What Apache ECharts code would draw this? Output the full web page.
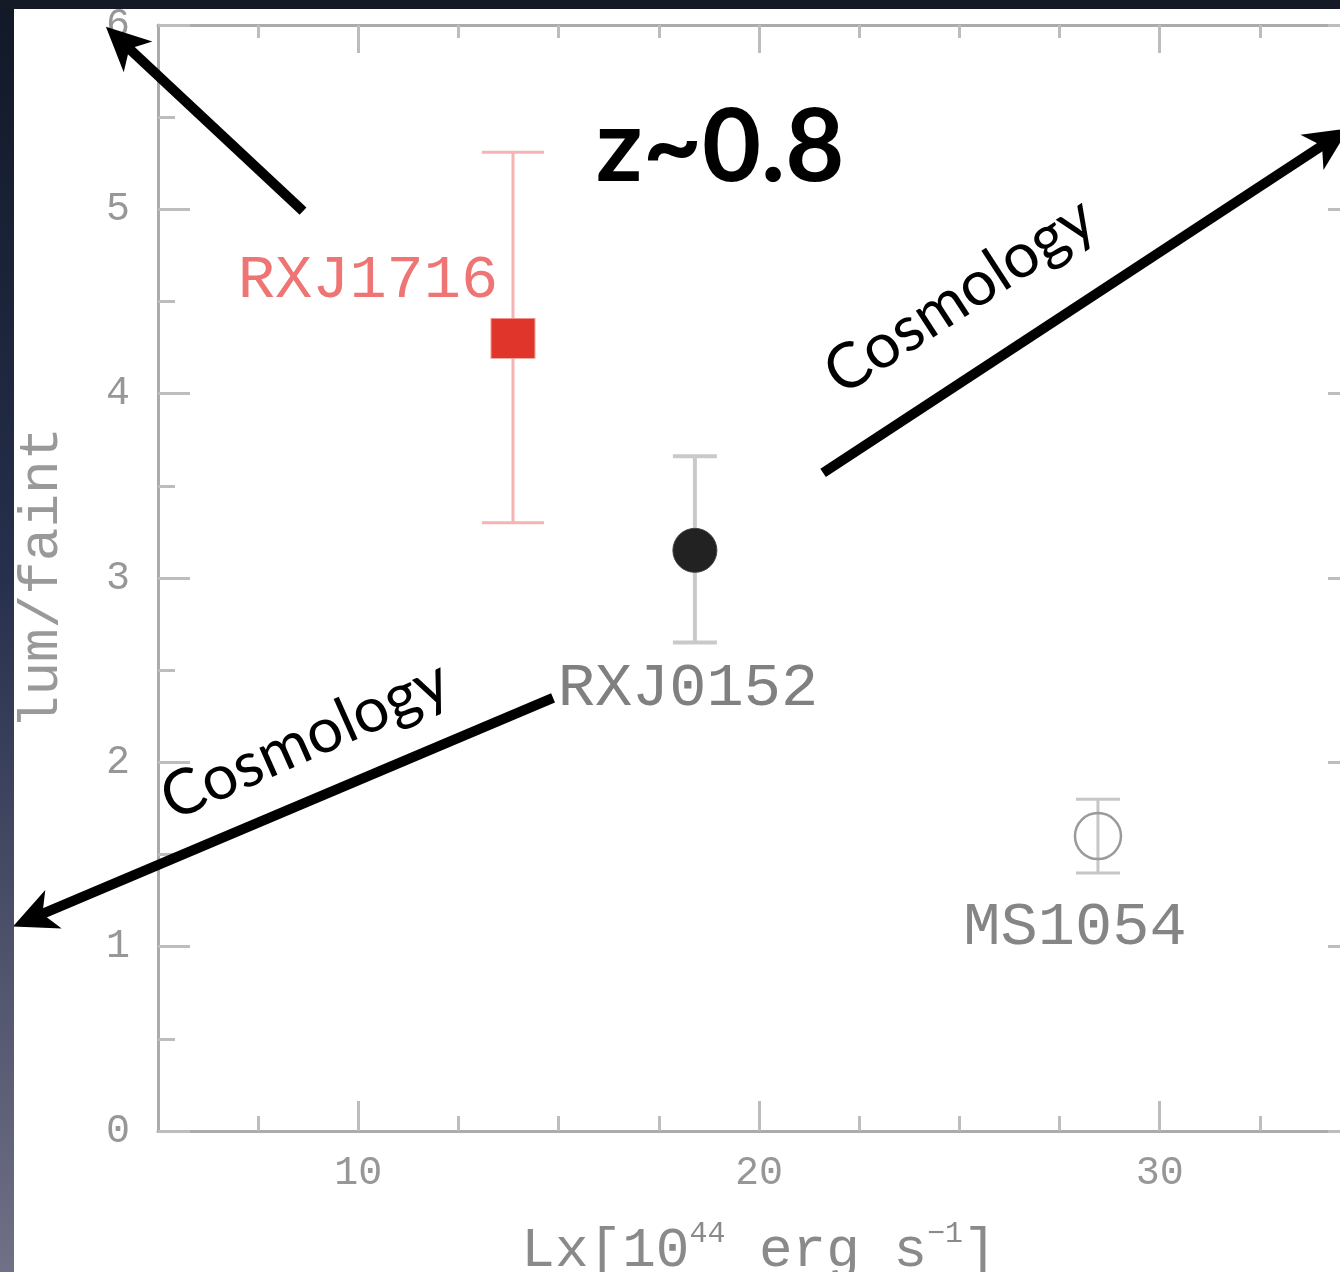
<!DOCTYPE html>
<html>
<head>
<meta charset="utf-8">
<title>lum/faint vs Lx</title>
<script src="https://cdn.jsdelivr.net/npm/echarts@6/dist/echarts.min.js"></script>
<style>
  html, body { margin: 0; padding: 0; background: #141b27; }
  #chart { width: 1340px; height: 1272px; }
</style>
</head>
<body>
<div id="chart"></div>
<script>
// Cluster measurements: X-ray luminosity vs luminous/faint galaxy ratio
const clusters   = ['RXJ1716', 'RXJ0152', 'MS1054'];
const lx         = [13.86, 18.40, 28.46];
const ratio      = [4.30, 3.15, 1.60];
const ratioLow   = [3.30, 2.65, 1.40];
const ratioHigh  = [5.31, 3.66, 1.80];

// Axis ticks
const xMajorTicks = [10, 20, 30];
const xMinorTicks = [7.5, 12.5, 15, 17.5, 22.5, 25, 27.5, 32.5];

// Annotation arrows (tail -> head, in data units)
const arrowTails = [[8.62, 4.99], [21.60, 3.57], [14.86, 2.35]];
const arrowHeads = [[3.70, 5.99], [34.72, 5.44], [1.38, 1.11]];

// Annotation texts and their anchors (data units) and baseline angles (deg)
const noteTexts   = ['z~0.8', 'Cosmology', 'Cosmology'];
const noteAnchors = [[19.03, 5.33], [25.01, 4.53], [8.67, 2.12]];
const noteAngles  = [0, 33, 24];

const TICK_FONT = 'Liberation Mono';
const NOTE_FONT = 'Lato';

const markerStyles = [
  { symbol: 'rect', size: [44, 40], color: '#e0352b', border: '#f3a09a', borderWidth: 1,
    label: '#ef7474', offset: [-145, -58], bar: '#f5b4b4', barWidth: 3, cap: 31 },
  { symbol: 'circle', size: 44, color: '#222222', border: '#444', borderWidth: 1,
    label: '#808080', offset: [-7, 138], bar: '#c9c9c9', barWidth: 4, cap: 22 },
  { symbol: 'circle', size: 46, color: 'rgba(0,0,0,0)', border: '#9a9a9a', borderWidth: 2.5,
    label: '#858585', offset: [-23, 92], bar: '#c6c6c6', barWidth: 3, cap: 22 }
];

const axisGray = '#ababab';
const tickGray = '#bdbdbd';
const labelGray = '#979797';

function xAxisPart(position, values, length, showLine, showLabel) {
  return {
    type: 'value', position: position, min: 5, max: 35, interval: 2.5,
    axisLine: { show: showLine, onZero: false, lineStyle: { color: axisGray, width: 3 } },
    axisTick: { show: true, inside: true, length: length, customValues: values,
                lineStyle: { color: tickGray, width: 3 } },
    axisLabel: { show: showLabel, customValues: values, margin: 22,
                 fontFamily: TICK_FONT, fontSize: 40, color: labelGray },
    splitLine: { show: false }
  };
}

function yAxisPart(position, showLabel) {
  return {
    type: 'value', position: position, min: 0, max: 6, interval: 1,
    axisLine: { show: true, onZero: false, lineStyle: { color: axisGray, width: 3 } },
    axisTick: { show: true, inside: true, length: 32, lineStyle: { color: tickGray, width: 3 } },
    minorTick: { show: true, splitNumber: 2, length: 17, lineStyle: { color: tickGray, width: 3 } },
    axisLabel: { show: showLabel, margin: 28, fontFamily: TICK_FONT, fontSize: 40, color: labelGray },
    splitLine: { show: false }
  };
}

const xAxes = [
  xAxisPart('bottom', xMajorTicks, 30, true, true),
  xAxisPart('bottom', xMinorTicks, 15, false, false),
  xAxisPart('top', xMajorTicks, 28, true, false),
  xAxisPart('top', xMinorTicks, 13, false, false)
];
Object.assign(xAxes[0], {
  name: '{n|Lx[10}{s|44}{n| erg s}{s|−1}{n|]}',
  nameLocation: 'middle',
  nameGap: 88,
  nameTextStyle: {
    rich: {
      n: { fontFamily: TICK_FONT, fontSize: 56, color: '#8a8a8a', verticalAlign: 'bottom', lineHeight: 60 },
      s: { fontFamily: TICK_FONT, fontSize: 30, color: '#8a8a8a', verticalAlign: 'top', lineHeight: 60 }
    }
  }
});

const yAxes = [yAxisPart('left', true), yAxisPart('right', false)];
Object.assign(yAxes[0], {
  name: 'lum/faint',
  nameLocation: 'middle',
  nameGap: 88,
  nameTextStyle: { fontFamily: TICK_FONT, fontSize: 56, color: '#999999' }
});

const errorSeries = {
  type: 'custom',
  name: 'error',
  z: 2,
  data: clusters.map((c, i) => [lx[i], ratioLow[i], ratioHigh[i], i]),
  encode: { x: 0, y: [1, 2] },
  renderItem: function (params, api) {
    const idx = api.value(3);
    const st = markerStyles[idx];
    const lo = api.coord([api.value(0), api.value(1)]);
    const hi = api.coord([api.value(0), api.value(2)]);
    const ls = { stroke: st.bar, lineWidth: st.barWidth };
    return {
      type: 'group',
      children: [
        { type: 'line', shape: { x1: lo[0], y1: lo[1], x2: hi[0], y2: hi[1] }, style: ls },
        { type: 'line', shape: { x1: lo[0] - st.cap, y1: lo[1], x2: lo[0] + st.cap, y2: lo[1] }, style: ls },
        { type: 'line', shape: { x1: hi[0] - st.cap, y1: hi[1], x2: hi[0] + st.cap, y2: hi[1] }, style: ls }
      ]
    };
  }
};

const markerSeries = clusters.map((name, i) => {
  const st = markerStyles[i];
  return {
    type: 'scatter',
    name: name,
    z: 3,
    symbol: st.symbol,
    symbolSize: st.size,
    itemStyle: { color: st.color, borderColor: st.border, borderWidth: st.borderWidth, opacity: 1 },
    label: {
      show: true,
      formatter: name,
      position: 'inside',
      offset: st.offset,
      fontFamily: TICK_FONT,
      fontSize: 62,
      color: st.label
    },
    data: [[lx[i], ratio[i]]]
  };
});

const arrowSeries = {
  type: 'custom',
  name: 'arrows',
  z: 5,
  data: arrowTails.map((t, i) => [t[0], t[1], arrowHeads[i][0], arrowHeads[i][1]]),
  encode: { x: [0, 2], y: [1, 3] },
  renderItem: function (params, api) {
    const p0 = api.coord([api.value(0), api.value(1)]);
    const p1 = api.coord([api.value(2), api.value(3)]);
    const dx = p1[0] - p0[0], dy = p1[1] - p0[1];
    const len = Math.sqrt(dx * dx + dy * dy);
    const ux = dx / len, uy = dy / len;
    const nx = -uy, ny = ux;
    const L = 44, W = 21, notch = 12;
    const back = [p1[0] - ux * (L - notch), p1[1] - uy * (L - notch)];
    const b1 = [p1[0] - ux * L + nx * W, p1[1] - uy * L + ny * W];
    const b2 = [p1[0] - ux * L - nx * W, p1[1] - uy * L - ny * W];
    return {
      type: 'group',
      children: [
        { type: 'line', shape: { x1: p0[0], y1: p0[1], x2: back[0] + ux * 2, y2: back[1] + uy * 2 },
          style: { stroke: '#000', lineWidth: 10, lineCap: 'butt' } },
        { type: 'polygon', shape: { points: [p1, b1, back, b2] }, style: { fill: '#000' } }
      ]
    };
  }
};

const noteSeries = {
  type: 'custom',
  name: 'notes',
  z: 6,
  data: noteAnchors.map((a, i) => [a[0], a[1], i]),
  encode: { x: 0, y: 1 },
  renderItem: function (params, api) {
    const i = api.value(2);
    const p = api.coord([api.value(0), api.value(1)]);
    const big = i === 0;
    return {
      type: 'text',
      x: p[0], y: p[1],
      rotation: noteAngles[i] * Math.PI / 180,
      style: {
        text: noteTexts[i],
        fontFamily: NOTE_FONT,
        fontSize: big ? 102 : 63,
        fontWeight: big ? 'bold' : 'normal',
        fill: '#000',
        align: 'center',
        verticalAlign: 'middle'
      }
    };
  }
};

const chart = echarts.init(document.getElementById('chart'), null, { renderer: 'canvas' });
chart.setOption({
  backgroundColor: '#ffffff',
  animation: false,
  grid: { left: 158, top: 25, width: 1202, height: 1106, containLabel: false, outerBoundsMode: 'none' },
  xAxis: xAxes,
  yAxis: yAxes,
  series: [errorSeries].concat(markerSeries, [arrowSeries, noteSeries]),
  graphic: [
    {
      type: 'rect', z: 100, silent: true,
      shape: { x: 0, y: 0, width: 14, height: 1272 },
      style: {
        fill: {
          type: 'linear', x: 0, y: 0, x2: 0, y2: 1,
          colorStops: [
            { offset: 0, color: '#111827' },
            { offset: 0.45, color: '#262f4c' },
            { offset: 1, color: '#707086' }
          ]
        }
      }
    },
    {
      type: 'rect', z: 100, silent: true,
      shape: { x: 0, y: 0, width: 1340, height: 9 },
      style: { fill: '#141b27' }
    }
  ]
});
</script>
</body>
</html>
